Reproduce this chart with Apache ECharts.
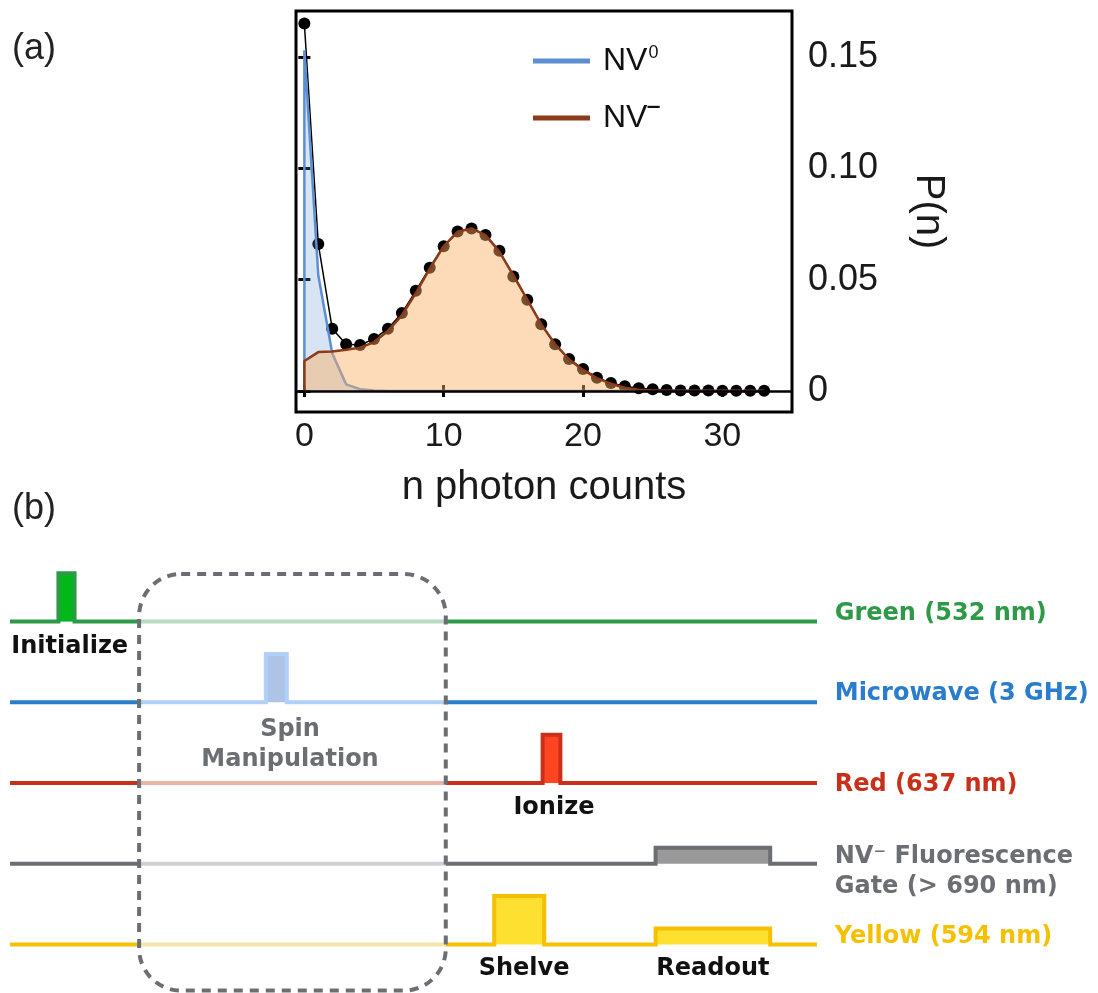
<!DOCTYPE html>
<html>
<head>
<meta charset="utf-8">
<script src="https://cdn.jsdelivr.net/npm/echarts@6/dist/echarts.min.js"></script>
<style>
html,body{margin:0;padding:0;background:#fff;}
#chart{width:1098px;height:993px;}
</style>
</head>
<body>
<div id="chart"></div>
<script>
// ---------- Panel (a) data ----------
const photonCounts = [0,1,2,3,4,5,6,7,8,9,10,11,12,13,14,15,16,17,18,19,20,21,22,23,24,25,26,27,28,29,30,31,32,33];
const measuredP = [0.165,0.066,0.028,0.021,0.0207,0.0234,0.028,0.035,0.045,0.0554,0.065,0.0716,0.073,0.070,0.063,0.0514,0.041,0.030,0.021,0.0144,0.0099,0.006,0.0036,0.0022,0.0013,0.0008,0.0005,0.0003,0.0002,0.0002,0.0001,0.0001,0.0001,0.0001];
const nv0Counts = [0,0,1,2,3,4,5,6,33];
const nv0P = [0,0.153,0.052,0.017,0.003,0.0008,0.0002,0,0];
const nvmCounts = [0,0,1,2,3,4,5,6,7,8,9,10,11,12,13,14,15,16,17,18,19,20,21,22,23,24,25,26,27,28,29,30,31,32,33];
const nvmP = [0,0.0135,0.0175,0.0178,0.0185,0.0195,0.022,0.027,0.034,0.044,0.055,0.065,0.0715,0.073,0.070,0.0625,0.052,0.041,0.030,0.021,0.0142,0.0095,0.0058,0.0033,0.0015,0.0006,0.0002,0,0,0,0,0,0,0,0];
const xTicks = [0,10,20,30];
const yTicks = [0,0.05,0.10,0.15];

// ---------- Panel (b) data ----------
const channelNames = ['Green (532 nm)','Microwave (3 GHz)','Red (637 nm)','NV\u207B Fluorescence\nGate (> 690 nm)','Yellow (594 nm)'];
const channelLevels = [4,3,2,1,0];
const channelLabelY = [4.1,3.11,1.98,0.9,0.1];
const channelColors = ['#2e9a48','#2a7ccc','#c9301a','#6b6e73','#f5c000'];
const channelFaded = ['#b5dcc0','#b0d0f8','#ecb4a8','#cfd0d3','#f6e5a9'];
const pulseChannel = [0,1,2,3,4,4];
const pulseStart = [6,31.7,66,80,60,80];
const pulseEnd = [8,34.3,68.2,94.2,66.2,94.2];
const pulseHeight = [0.6,0.6,0.6,0.2,0.6,0.2];
const pulseFill = ['#00b81a','#aec4e6','#ff4422','#999999','#fde030','#fde030'];
const timeRange = [0,100];
const spinWindow = [16,54];
const spinBoxLevels = [-0.57,4.59];
const noteTexts = ['Initialize','Spin\nManipulation','Ionize','Shelve','Readout'];
const noteX = [7.4,34.7,67.4,63.7,87.1];
const noteY = [3.69,2.48,1.69,-0.3,-0.3];
const noteColors = ['#111111','#6b6e73','#111111','#111111','#111111'];

const fontA = 'Liberation Sans, Arial, Helvetica, sans-serif';
const fontB = 'DejaVu Sans, Verdana, sans-serif';

const chart = echarts.init(document.getElementById('chart'), null, {renderer:'canvas'});

// waveform segments
const segments = [];
channelLevels.forEach((L, ch) => {
  segments.push([timeRange[0], spinWindow[0], ch, 0]);
  segments.push([spinWindow[0], spinWindow[1], ch, 1]);
  segments.push([spinWindow[1], timeRange[1], ch, 0]);
});
function wavePoints(ch, t0, t1) {
  const L = channelLevels[ch];
  const pts = [[t0, L]];
  const idx = pulseChannel.map((c,i)=>i).filter(i => pulseChannel[i]===ch && pulseStart[i]>=t0 && pulseEnd[i]<=t1)
    .sort((a,b)=>pulseStart[a]-pulseStart[b]);
  idx.forEach(i => {
    const h = pulseHeight[i];
    pts.push([pulseStart[i], L],[pulseStart[i], L+h],[pulseEnd[i], L+h],[pulseEnd[i], L]);
  });
  pts.push([t1, L]);
  return pts;
}

const labelData = [];
channelNames.forEach((t, i) => labelData.push({
  value:[timeRange[1]+2.2, channelLabelY[i]],
  label:{show:true, position:'right', distance:0, formatter:t, color:channelColors[i], fontSize:24, lineHeight:30, fontWeight:'bold', fontFamily:fontB, align:'left'}
}));
noteTexts.forEach((t, i) => labelData.push({
  value:[noteX[i], noteY[i]],
  label:{show:true, position:'inside', formatter:t, color:noteColors[i], fontSize:24, lineHeight:30, fontWeight:'bold', fontFamily:fontB, align:'center'}
}));

const option = {
  animation:false,
  backgroundColor:'#ffffff',
  title:[
    {text:'(a)', left:12, top:31, padding:0, textStyle:{fontSize:36, fontWeight:'normal', color:'#222', fontFamily:fontA}},
    {text:'(b)', left:12, top:491, padding:0, textStyle:{fontSize:36, fontWeight:'normal', color:'#222', fontFamily:fontA}}
  ],
  legend:{
    left:533, top:44, padding:0, orient:'vertical', itemWidth:57, itemHeight:5, itemGap:18, selectedMode:false,
    data:[{name:'NV0', icon:'rect', itemStyle:{color:'#5b8fd2'}},{name:'NV-', icon:'rect', itemStyle:{color:'#8b3a1a'}}],
    formatter: n => n==='NV0' ? '{b|NV}{s|0}' : '{b|NV}{m|\u2012}',
    textStyle:{
      fontFamily:fontA, fontSize:32, color:'#111',
      rich:{
        b:{fontSize:32, lineHeight:36, fontFamily:fontA, color:'#111', padding:[0,0,0,8]},
        s:{fontSize:18, lineHeight:18, fontFamily:fontA, color:'#111', padding:[0,0,16,1]},
        m:{fontSize:22, lineHeight:22, fontWeight:'bold', fontFamily:fontA, color:'#111', padding:[0,0,22,0]}
      }
    }
  },
  grid:[
    {left:296, right:306, top:11, bottom:581, show:true, borderColor:'#000', borderWidth:3, backgroundColor:'transparent'},
    {left:10, right:281, top:557, height:436}
  ],
  xAxis:[
    {gridIndex:0, type:'value', min:-0.6, max:35, position:'bottom',
     axisLine:{show:false}, splitLine:{show:false},
     axisTick:{show:true, inside:true, length:6, lineStyle:{color:'#000', width:3}, customValues:xTicks},
     axisLabel:{show:true, customValues:xTicks, fontSize:34, margin:8, color:'#1a1a1a', fontFamily:fontA},
     name:'n photon counts', nameLocation:'middle', nameGap:56,
     nameTextStyle:{fontSize:40, color:'#1a1a1a', fontFamily:fontA}},
    {gridIndex:0, type:'value', min:-0.6, max:35, position:'top',
     axisLine:{show:false}, splitLine:{show:false},
     axisTick:{show:true, inside:true, length:6, lineStyle:{color:'#000', width:3}, customValues:xTicks},
     axisLabel:{show:false}},
    {gridIndex:1, type:'value', min:timeRange[0], max:timeRange[1], show:false}
  ],
  yAxis:[
    {gridIndex:0, type:'value', min:-0.0094, max:0.1706, position:'left',
     axisLine:{show:false}, splitLine:{show:false},
     axisTick:{show:true, inside:true, length:6, lineStyle:{color:'#000', width:3}, customValues:yTicks},
     axisLabel:{show:false}},
    {gridIndex:0, type:'value', min:-0.0094, max:0.1706, position:'right',
     axisLine:{show:false}, splitLine:{show:false},
     axisTick:{show:true, inside:true, length:6, lineStyle:{color:'#000', width:3}, customValues:yTicks},
     axisLabel:{show:true, customValues:yTicks, fontSize:36, margin:16, color:'#1a1a1a', fontFamily:fontA,
       formatter: v => v===0 ? '0' : v.toFixed(2)},
     name:'P(n)', nameLocation:'middle', nameRotate:-90, nameGap:116,
     nameTextStyle:{fontSize:40, color:'#1a1a1a', fontFamily:fontA}},
    {gridIndex:1, type:'value', min:-0.6, max:4.8, show:false}
  ],
  series:[
    {type:'line', name:'data', xAxisIndex:0, yAxisIndex:0, z:2,
     data: photonCounts.map((n,i)=>[n, measuredP[i]]),
     symbol:'circle', symbolSize:12, showSymbol:true,
     itemStyle:{color:'#000'}, lineStyle:{color:'#000', width:1.5},
     markLine:{silent:true, symbol:'none', label:{show:false}, lineStyle:{color:'#000', width:2.5, type:'solid'}, data:[{yAxis:0}]}},
    {type:'line', name:'NV0', xAxisIndex:0, yAxisIndex:0, z:3,
     data: nv0Counts.map((n,i)=>[n, nv0P[i]]),
     showSymbol:false, symbol:'none',
     itemStyle:{color:'#5b8fd2'}, lineStyle:{color:'#5b8fd2', width:2.5},
     areaStyle:{color:'rgba(91,143,210,0.35)'}},
    {type:'line', name:'NV-', xAxisIndex:0, yAxisIndex:0, z:4,
     data: nvmCounts.map((n,i)=>[n, nvmP[i]]),
     showSymbol:false, symbol:'none',
     itemStyle:{color:'#8b3a1a'}, lineStyle:{color:'#8b3a1a', width:2.5},
     areaStyle:{color:'rgba(250,175,100,0.65)'}},
    // pulse fills
    {type:'custom', xAxisIndex:2, yAxisIndex:2, z:5, silent:true,
     data: pulseChannel.map((c,i)=>[pulseStart[i], channelLevels[c], i]),
     renderItem:(params, api) => {
       const i = api.value(2);
       const L = channelLevels[pulseChannel[i]];
       const p1 = api.coord([pulseStart[i], L + pulseHeight[i]]);
       const p2 = api.coord([pulseEnd[i], L]);
       return {type:'rect', shape:{x:p1[0], y:p1[1], width:p2[0]-p1[0], height:p2[1]-p1[1]}, style:{fill:pulseFill[i], stroke:'none'}};
     }},
    // waveforms
    {type:'custom', xAxisIndex:2, yAxisIndex:2, z:6, silent:true,
     data: segments,
     renderItem:(params, api) => {
       const t0 = api.value(0), t1 = api.value(1), ch = api.value(2), faded = api.value(3);
       const pts = wavePoints(ch, t0, t1).map(p => api.coord(p));
       return {type:'polyline', shape:{points:pts}, style:{stroke: faded ? channelFaded[ch] : channelColors[ch], lineWidth:4, fill:'none', lineJoin:'miter'}};
     }},
    // spin manipulation dashed box
    {type:'custom', xAxisIndex:2, yAxisIndex:2, z:7, silent:true,
     data:[[spinWindow[0], spinBoxLevels[0], spinWindow[1], spinBoxLevels[1]]],
     renderItem:(params, api) => {
       const a = api.coord([api.value(0), api.value(3)]);
       const b = api.coord([api.value(2), api.value(1)]);
       return {type:'rect', shape:{x:a[0], y:a[1], width:b[0]-a[0], height:b[1]-a[1], r:42},
               style:{fill:'none', stroke:'#6b6e73', lineWidth:4, lineDash:[9,7]}};
     }},
    // text labels
    {type:'scatter', xAxisIndex:2, yAxisIndex:2, z:8, silent:true, symbolSize:0, clip:false,
     itemStyle:{color:'transparent', opacity:1}, data:labelData}
  ]
};
chart.setOption(option);
</script>
</body>
</html>
